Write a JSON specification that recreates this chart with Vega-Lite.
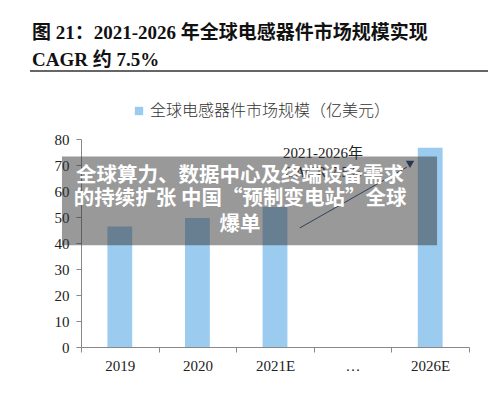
{
  "$schema": "https://vega.github.io/schema/vega-lite/v6.json",
  "width": 388,
  "height": 208,
  "autosize": "none",
  "padding": {"left": 81, "top": 139, "right": 31, "bottom": 55},
  "background": "white",
  "title": {
    "text": ["图 21：2021-2026 年全球电感器件市场规模实现", "CAGR 约 7.5%"],
    "anchor": "start",
    "frame": "group",
    "dx": -49,
    "font": "Liberation Serif, Noto Sans CJK SC",
    "fontSize": 19,
    "fontWeight": "bold",
    "color": "#111111",
    "lineHeight": 27,
    "offset": 0
  },
  "config": {
    "view": {"stroke": null},
    "axis": {"labelFont": "Liberation Serif", "labelFontSize": 15, "labelColor": "#222222", "domainColor": "#888888", "tickColor": "#888888", "grid": false, "title": null, "labelOverlap": false}
  },
  "datasets": {
    "bars": [
      {"year": "2019", "value": 46.3, "series": "全球电感器件市场规模（亿美元）"},
      {"year": "2020", "value": 49.6, "series": "全球电感器件市场规模（亿美元）"},
      {"year": "2021E", "value": 53.8, "series": "全球电感器件市场规模（亿美元）"},
      {"year": "2026E", "value": 76.6, "series": "全球电感器件市场规模（亿美元）"}
    ],
    "notes": [
      {"u": 3.12, "v": 74.6, "label": "2021-2026年"},
      {"u": 3.12, "v": 67.5, "label": "CAGR 7.5%"}
    ],
    "arrow": [
      {"u": 2.82, "v": 45.8, "u2": 4.2, "v2": 69.2}
    ],
    "head": [
      {"u": 4.24, "v": 70.2}
    ],
    "rule": [
      {"u": -0.657, "u2": 5.245, "v": 106.2}
    ],
    "box": [
      {"u": -0.245, "u2": 4.588, "v": 73.3, "v2": 39.1}
    ],
    "overlay": [
      {"u": 2.05, "v": 65.6, "label": "全球算力、数据中心及终端设备需求"},
      {"u": 2.05, "v": 57.0, "label": "的持续扩张 中国“预制变电站”全球"},
      {"u": 2.05, "v": 46.9, "label": "爆单"}
    ]
  },
  "resolve": {"scale": {"x": "independent"}},
  "layer": [
    {
      "data": {"name": "bars"},
      "mark": {"type": "bar", "width": {"band": 0.32}},
      "encoding": {
        "x": {"field": "year", "type": "nominal", "sort": null,
          "scale": {"domain": ["2019", "2020", "2021E", "…", "2026E"], "paddingInner": 0, "paddingOuter": 0},
          "axis": {"labelAngle": 0, "tickBand": "extent", "tickSize": 5, "labelPadding": 6, "labelBaseline": "top"}},
        "y": {"field": "value", "type": "quantitative",
          "scale": {"domain": [0, 80], "nice": false},
          "axis": {"values": [0, 10, 20, 30, 40, 50, 60, 70, 80], "tickSize": 5, "labelPadding": 7, "labelOverlap": false}},
        "color": {"field": "series", "type": "nominal",
          "scale": {"range": ["#9ccbf0"]},
          "legend": {"title": null, "orient": "none", "legendX": 50, "legendY": -36, "symbolType": "square", "symbolSize": 70, "symbolStrokeWidth": 0, "labelFont": "Noto Sans CJK SC", "labelFontSize": 16, "labelFontWeight": 300, "labelColor": "#333333", "labelOffset": 3, "labelLimit": 400}}
      }
    },
    {
      "data": {"name": "notes"},
      "mark": {"type": "text", "font": "Liberation Serif, Noto Sans CJK SC", "fontSize": 15, "color": "#222222", "align": "center", "baseline": "middle"},
      "encoding": {
        "x": {"field": "u", "type": "quantitative", "scale": {"domain": [0, 5], "nice": false, "zero": false}, "axis": null},
        "y": {"field": "v", "type": "quantitative", "axis": {"values": [0, 10, 20, 30, 40, 50, 60, 70, 80], "tickSize": 5, "labelPadding": 7, "labelOverlap": false}},
        "text": {"field": "label"}
      }
    },
    {
      "data": {"name": "arrow"},
      "mark": {"type": "rule", "color": "#2f4a80", "strokeWidth": 1},
      "encoding": {
        "x": {"field": "u", "type": "quantitative", "scale": {"domain": [0, 5], "nice": false, "zero": false}, "axis": null},
        "x2": {"field": "u2"},
        "y": {"field": "v", "type": "quantitative", "axis": {"values": [0, 10, 20, 30, 40, 50, 60, 70, 80], "tickSize": 5, "labelPadding": 7, "labelOverlap": false}},
        "y2": {"field": "v2"}
      }
    },
    {
      "data": {"name": "head"},
      "mark": {"type": "point", "shape": "triangle-down", "filled": true, "color": "#1f3a6e", "size": 70, "opacity": 1},
      "encoding": {
        "x": {"field": "u", "type": "quantitative", "scale": {"domain": [0, 5], "nice": false, "zero": false}, "axis": null},
        "y": {"field": "v", "type": "quantitative", "axis": {"values": [0, 10, 20, 30, 40, 50, 60, 70, 80], "tickSize": 5, "labelPadding": 7, "labelOverlap": false}}
      }
    },
    {
      "data": {"name": "rule"},
      "mark": {"type": "rule", "color": "#666666", "strokeWidth": 2},
      "encoding": {
        "x": {"field": "u", "type": "quantitative", "scale": {"domain": [0, 5], "nice": false, "zero": false}, "axis": null},
        "x2": {"field": "u2"},
        "y": {"field": "v", "type": "quantitative", "axis": {"values": [0, 10, 20, 30, 40, 50, 60, 70, 80], "tickSize": 5, "labelPadding": 7, "labelOverlap": false}}
      }
    },
    {
      "data": {"name": "box"},
      "mark": {"type": "rect", "color": "#333333", "opacity": 0.5},
      "encoding": {
        "x": {"field": "u", "type": "quantitative", "scale": {"domain": [0, 5], "nice": false, "zero": false}, "axis": null},
        "x2": {"field": "u2"},
        "y": {"field": "v", "type": "quantitative", "axis": {"values": [0, 10, 20, 30, 40, 50, 60, 70, 80], "tickSize": 5, "labelPadding": 7, "labelOverlap": false}},
        "y2": {"field": "v2"}
      }
    },
    {
      "data": {"name": "overlay"},
      "mark": {"type": "text", "font": "Noto Sans CJK SC", "fontSize": 20.5, "fontWeight": "bold", "color": "white", "align": "center", "baseline": "middle"},
      "encoding": {
        "x": {"field": "u", "type": "quantitative", "scale": {"domain": [0, 5], "nice": false, "zero": false}, "axis": null},
        "y": {"field": "v", "type": "quantitative", "axis": {"values": [0, 10, 20, 30, 40, 50, 60, 70, 80], "tickSize": 5, "labelPadding": 7, "labelOverlap": false}},
        "text": {"field": "label"}
      }
    }
  ]
}
